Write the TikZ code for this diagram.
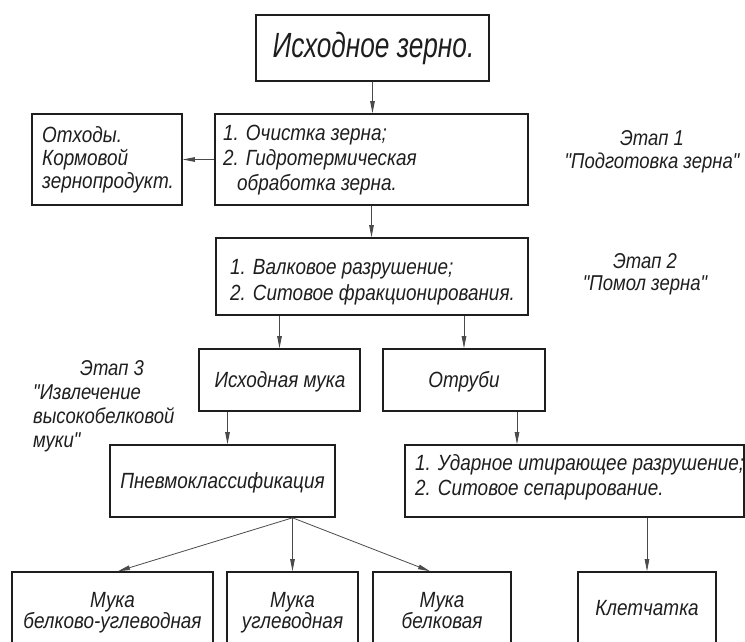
\documentclass[tikz,border=0pt]{standalone}
\usepackage{fontspec}
\newfontfamily\gost{Liberation Sans}[FakeStretch=0.86]
\newfontfamily\gostbig{Liberation Sans}[FakeStretch=0.75]
\usetikzlibrary{arrows.meta}
\definecolor{ink}{HTML}{1E1E1E}
\definecolor{wire}{HTML}{4A4A4A}
\begin{document}
\begin{tikzpicture}[x=1pt,y=-1pt,
  box/.style={draw=ink,line width=1.6pt,inner sep=0pt,fill=none},
  txt/.style={inner sep=0pt,text=ink,font=\gost\itshape\fontsize{22}{25}\selectfont},
  stagetxt/.style={inner sep=0pt,text=ink,font=\gost\itshape\fontsize{21.5}{23}\selectfont},
  arr/.style={draw=wire,line width=0.8pt,-{Triangle[length=12pt,width=4.5pt]}}]
\useasboundingbox (0,0) rectangle (745,641);
\clip (0,0) rectangle (745,641);
% boxes
\node[box,minimum width=233pt,minimum height=66pt] (top) at (372.5,48) {};
\node[box,minimum width=313pt,minimum height=91pt] (clean) at (371.5,159.5) {};
\node[box,minimum width=150pt,minimum height=91pt] (waste) at (107,159.5) {};
\node[box,minimum width=312pt,minimum height=77pt] (mill) at (372,276.5) {};
\node[box,minimum width=161pt,minimum height=62pt] (flour) at (279.5,380) {};
\node[box,minimum width=162pt,minimum height=62pt] (bran) at (464,380) {};
\node[box,minimum width=225pt,minimum height=72pt] (pneumo) at (222.5,481) {};
\node[box,minimum width=339pt,minimum height=72pt] (impact) at (574.5,481) {};
\node[box,minimum width=201pt,minimum height=88pt] (b1) at (112.5,616) {};
\node[box,minimum width=131pt,minimum height=88pt] (b2) at (292.5,616) {};
\node[box,minimum width=138pt,minimum height=88pt] (b3) at (442,616) {};
\node[box,minimum width=138pt,minimum height=88pt] (fiber) at (647,616) {};
% texts (multi-line nodes: base = last line)
\node[txt,anchor=base,font=\gostbig\itshape\fontsize{35}{40}\selectfont] (ttop) at (373.5,57) {Исходное зерно.};
\node[txt,anchor=base west,align=left] (tclean) at (223,190) {1. Очистка зерна;\\2. Гидротермическая\\\hspace*{14pt}обработка зерна.};
\node[txt,anchor=base west,align=left,font=\gost\itshape\fontsize{22}{23}\selectfont] (twaste) at (42,188) {Отходы.\\Кормовой\\зернопродукт.};
\node[stagetxt,anchor=base,align=center] (st1) at (652,168) {Этап 1\\"Подготовка зерна"};
\node[txt,anchor=base west,align=left,font=\gost\itshape\fontsize{22}{26}\selectfont] (tmill) at (230,300) {1. Валковое разрушение;\\2. Ситовое фракционирования.};
\node[stagetxt,anchor=base,align=center,font=\gost\itshape\fontsize{21.5}{22}\selectfont] (st2) at (645,290) {Этап 2\\"Помол зерна"};
\node[stagetxt,anchor=base west,align=left,font=\gost\itshape\fontsize{21.5}{24}\selectfont] (st3) at (33,447) {\hspace*{47pt}Этап 3\\"Извлечение\\высокобелковой\\муки"};
\node[txt,anchor=base] (tflour) at (280,387) {Исходная мука};
\node[txt,anchor=base] (tbran) at (464,387) {Отруби};
\node[txt,anchor=base] (tpneumo) at (222.5,488) {Пневмоклассификация};
\node[txt,anchor=base west,align=left] (timpact) at (415,495) {1. Ударное итирающее разрушение;\\2. Ситовое сепарирование.};
\node[txt,anchor=base,align=center,font=\gost\itshape\fontsize{22}{21}\selectfont] (tb1) at (112.5,628) {Мука\\белково-углеводная};
\node[txt,anchor=base,align=center,font=\gost\itshape\fontsize{22}{21}\selectfont] (tb2) at (292.5,628) {Мука\\углеводная};
\node[txt,anchor=base,align=center,font=\gost\itshape\fontsize{22}{21}\selectfont] (tb3) at (442,628) {Мука\\белковая};
\node[txt,anchor=base] (tfiber) at (647,615) {Клетчатка};
% connectors
\draw[arr] (top.south) -- (top.south |- clean.north);
\draw[arr] (clean.west |- waste.east) -- (waste.east);
\draw[arr] (clean.south) -- (clean.south |- mill.north);
\draw[arr] (flour.north |- mill.south) -- (flour.north);
\draw[arr] (bran.north |- mill.south) -- (bran.north);
\coordinate (fo) at ([xshift=-52pt]flour.south);
\draw[arr] (fo) -- (fo |- pneumo.north);
\coordinate (bo) at ([xshift=53pt]bran.south);
\draw[arr] (bo) -- (bo |- impact.north);
\coordinate (po) at ([xshift=70pt]pneumo.south);
\draw[arr] (po) -- ([xshift=5.5pt]b1.north);
\draw[arr] (po) -- (po |- b2.north);
\draw[arr] (po) -- ([xshift=-12pt]b3.north);
\draw[arr] (fiber.north |- impact.south) -- (fiber.north);
\end{tikzpicture}
\end{document}
